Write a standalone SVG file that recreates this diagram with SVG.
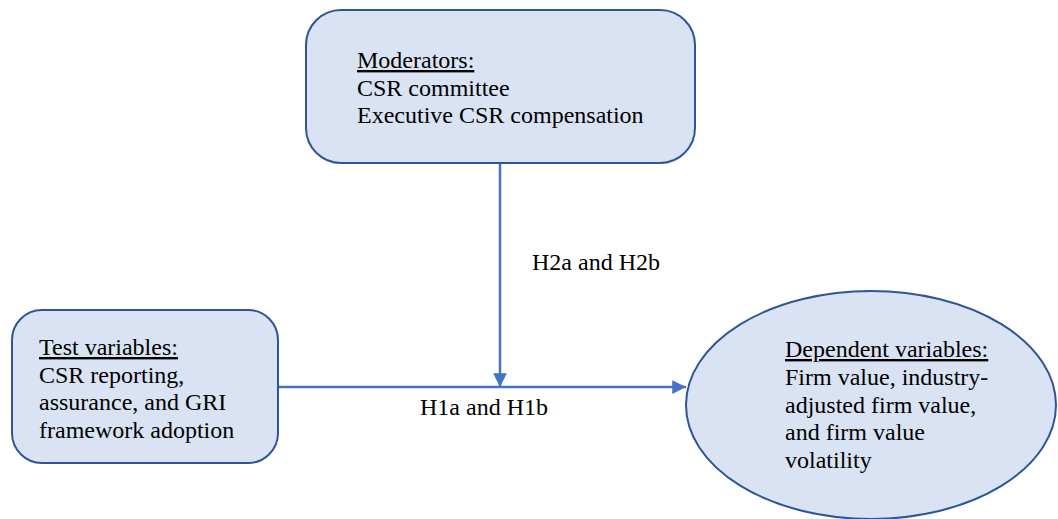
<svg xmlns="http://www.w3.org/2000/svg" width="1058" height="519" viewBox="0 0 1058 519">
<defs>
<style>
.node{fill:#DAE3F3;stroke:#2F5597;stroke-width:2}
.t{font-family:"Liberation Serif","Times New Roman",serif;font-size:24px;fill:#000}
.u{text-decoration:underline}
.conn{stroke:#4472C4;stroke-width:2.5;fill:none}
</style>
<marker id="ah2" viewBox="0 0 10 10" refX="10" refY="5" markerWidth="5.5" markerHeight="5.5" orient="auto">
<path d="M0,0 L10,5 L0,10 z" fill="#4472C4"/>
</marker>
</defs>
<rect width="1058" height="519" fill="#fff"/>
<g id="connectors">
<line class="conn" x1="279" y1="387" x2="686" y2="387" marker-end="url(#ah2)"/>
<line class="conn" x1="500" y1="164" x2="500" y2="387" marker-end="url(#ah2)"/>
<text class="t" x="532" y="270">H2a and H2b</text>
<text class="t" x="420" y="415">H1a and H1b</text>
</g>
<g id="moderators">
<rect class="node" x="306" y="10" width="389" height="153" rx="35"/>
<text class="t" x="357" y="68"><tspan class="u">Moderators:</tspan><tspan x="357" dy="27.5">CSR committee</tspan><tspan x="357" dy="27.5">Executive CSR compensation</tspan></text>
</g>
<g id="test">
<rect class="node" x="12" y="310" width="266" height="153" rx="30"/>
<text class="t" x="39" y="355"><tspan class="u">Test variables:</tspan><tspan x="39" dy="27.5">CSR reporting,</tspan><tspan x="39" dy="27.5">assurance, and GRI</tspan><tspan x="39" dy="27.5">framework adoption</tspan></text>
</g>
<g id="dependent">
<ellipse class="node" cx="871" cy="405" rx="185" ry="114"/>
<text class="t" x="785" y="357"><tspan class="u">Dependent variables:</tspan><tspan x="785" dy="27.8">Firm value, industry-</tspan><tspan x="785" dy="27.8">adjusted firm value,</tspan><tspan x="785" dy="27.8">and firm value</tspan><tspan x="785" dy="27.8">volatility</tspan></text>
</g>
</svg>
